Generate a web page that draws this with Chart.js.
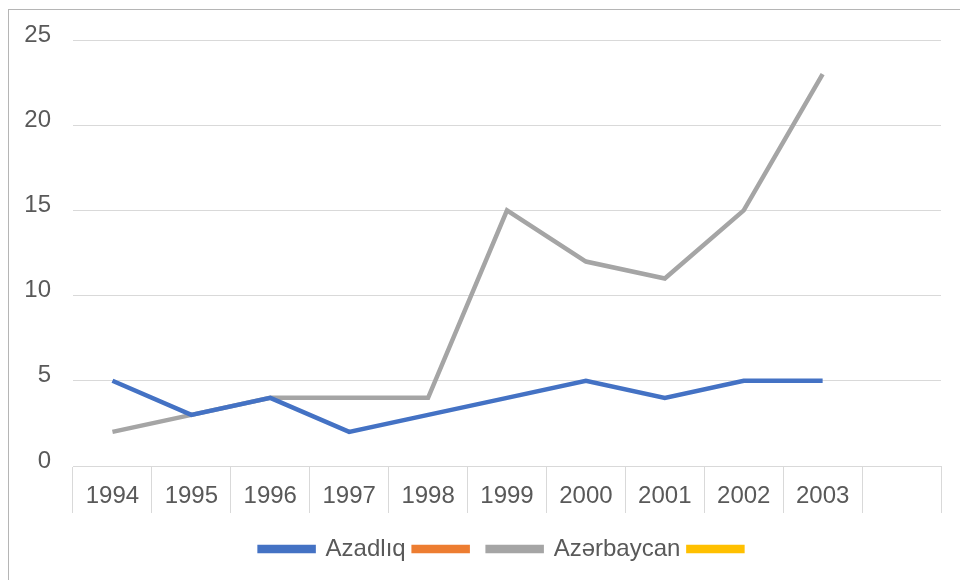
<!DOCTYPE html>
<html>
<head>
<meta charset="utf-8">
<script src="https://cdn.jsdelivr.net/npm/chart.js@4/dist/chart.umd.min.js"></script>
<style>
  html, body { margin: 0; padding: 0; background: #fff; overflow: hidden; }
  #frame {
    position: absolute; left: 8px; top: 9px;
    width: 960px; height: 580px;
    border-left: 1px solid #b5b5b5; border-top: 1px solid #b5b5b5;
  }
  #chart { display: block; }
</style>
</head>
<body>
<div id="frame">
  <canvas id="chart" width="951" height="570"></canvas>
</div>
<script>
// years on the x axis (last slot is empty in the original)
const years = ['1994', '1995', '1996', '1997', '1998', '1999', '2000', '2001', '2002', '2003', ''];
const azadliq = [5, 3, 4, 2, 3, 4, 5, 4, 5, 5];
const azerbaycan = [2, 3, 4, 4, 4, 15, 12, 11, 15, 23];
const yTicks = [0, 5, 10, 15, 20, 25];

const gridColor = '#d9d9d9';
const textColor = '#595959';
const fontFamily = 'Liberation Sans, Arial, sans-serif';

function line(label, data, color) {
  return {
    label: label,
    data: data,
    borderColor: color,
    backgroundColor: color,
    borderWidth: 4.5,
    pointRadius: 0,
    tension: 0
  };
}

new Chart(document.getElementById('chart'), {
  type: 'line',
  data: {
    labels: years,
    datasets: [
      line('Azadlıq', azadliq, '#4472C4'),
      line('', [], '#ED7D31'),
      line('Azərbaycan', azerbaycan, '#A5A5A5'),
      line('', [], '#FFC000')
    ]
  },
  options: {
    responsive: false,
    animation: false,
    layout: { padding: { top: 30, right: 19, bottom: 9, left: 0 } },
    plugins: {
      tooltip: { enabled: false },
      legend: {
        position: 'bottom',
        fullSize: false,
        labels: {
          boxWidth: 54,
          boxHeight: 4,
          padding: 8,
          color: textColor,
          font: { size: 24, family: fontFamily }
        }
      }
    },
    scales: {
      x: {
        offset: true,
        grid: {
          offset: true,
          drawOnChartArea: false,
          drawTicks: true,
          tickLength: 47,
          color: gridColor
        },
        border: { color: gridColor },
        ticks: {
          color: textColor,
          padding: -31,
          maxRotation: 0,
          autoSkip: false,
          font: { size: 24, family: fontFamily }
        },
        afterFit: (s) => { s.height = 63; s.paddingLeft = 0; s.paddingRight = 0; }
      },
      y: {
        min: 0,
        max: 25,
        afterBuildTicks: (s) => { s.ticks = yTicks.map(v => ({ value: v })); },
        grid: { color: gridColor, drawTicks: false },
        border: { display: false },
        ticks: {
          color: textColor,
          padding: 22,
          labelOffset: -5,
          font: { size: 24, family: fontFamily }
        },
        afterFit: (s) => { s.width = 64; s.paddingTop = 0; s.paddingBottom = 0; }
      }
    }
  }
});
</script>
</body>
</html>
